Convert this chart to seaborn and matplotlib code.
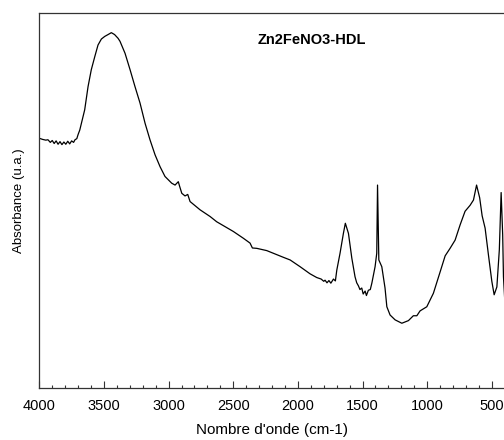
import matplotlib
matplotlib.use("Agg")
import matplotlib.pyplot as plt
from matplotlib.ticker import MultipleLocator
import seaborn as sns
import pandas as pd

wavenumber = [4000, 3975, 3950, 3933, 3915, 3900, 3885, 3870, 3855, 3840, 3825, 3810,
              3795, 3780, 3765, 3750, 3735, 3724, 3710, 3700, 3687, 3649, 3623, 3598,
              3571, 3546, 3520, 3494, 3468, 3443, 3418, 3391, 3376, 3337, 3298, 3260,
              3221, 3182, 3144, 3105, 3066, 3028, 2976, 2950, 2925, 2915, 2898, 2873,
              2852, 2834, 2757, 2679, 2628, 2499, 2422, 2370, 2352, 2318, 2241, 2112,
              2060, 1983, 1906, 1854, 1820, 1800, 1790, 1775, 1760, 1745, 1725, 1710,
              1699, 1674, 1648, 1633, 1609, 1583, 1558, 1545, 1532, 1520, 1506, 1495,
              1480, 1470, 1455, 1440, 1428, 1403, 1390, 1384, 1374, 1351, 1326, 1312,
              1287, 1248, 1196, 1145, 1107, 1080, 1055, 1003, 952, 900, 861, 823,
              784, 745, 707, 668, 642, 618, 594, 575, 552, 526, 500, 482,
              461, 442, 428, 416, 410, 400]
absorbance = [0.666, 0.663, 0.661, 0.662, 0.655, 0.660, 0.652, 0.659, 0.650, 0.657, 0.649, 0.656,
              0.650, 0.658, 0.651, 0.659, 0.655, 0.662, 0.665, 0.676, 0.688, 0.742, 0.804, 0.849,
              0.884, 0.915, 0.931, 0.938, 0.943, 0.948, 0.943, 0.933, 0.925, 0.893, 0.849, 0.804,
              0.760, 0.706, 0.662, 0.622, 0.590, 0.564, 0.546, 0.541, 0.550, 0.538, 0.519, 0.512,
              0.516, 0.497, 0.475, 0.457, 0.443, 0.417, 0.399, 0.386, 0.373, 0.372, 0.366, 0.348,
              0.341, 0.323, 0.304, 0.294, 0.290, 0.284, 0.287, 0.280, 0.286, 0.279, 0.290, 0.285,
              0.314, 0.359, 0.412, 0.439, 0.412, 0.346, 0.296, 0.280, 0.272, 0.262, 0.266, 0.250,
              0.258, 0.246, 0.260, 0.262, 0.279, 0.323, 0.359, 0.541, 0.341, 0.323, 0.266, 0.216,
              0.194, 0.181, 0.172, 0.179, 0.192, 0.192, 0.205, 0.216, 0.252, 0.309, 0.352, 0.372,
              0.394, 0.435, 0.471, 0.487, 0.501, 0.541, 0.507, 0.459, 0.426, 0.354, 0.284, 0.248,
              0.269, 0.368, 0.521, 0.408, 0.296, 0.234]

title = "Zn2FeNO3-HDL"
xlabel = "Nombre d'onde (cm-1)"
ylabel = "Absorbance (u.a.)"
xticks = [4000, 3500, 3000, 2500, 2000, 1500, 1000, 500]

sns.set_style("ticks")
plt.rcParams['font.family'] = ['Liberation Sans', 'DejaVu Sans']
plt.rcParams['text.color'] = 'black'
plt.rcParams['axes.labelcolor'] = 'black'
plt.rcParams['xtick.color'] = 'black'

df = pd.DataFrame({"wn": wavenumber, "abs": absorbance})

fig = plt.figure(figsize=(5.04, 4.40), dpi=100)
ax = fig.add_axes([0.078, 0.119, 0.9235, 0.851])
sns.lineplot(data=df, x="wn", y="abs", sort=False, estimator=None,
             color="black", linewidth=0.9, ax=ax)

ax.set_xlim(4000, 400)
ax.set_ylim(0, 1)
ax.set_xticks(xticks)
ax.set_xticklabels([str(t) for t in xticks])
ax.xaxis.set_minor_locator(MultipleLocator(100))
ax.tick_params(axis='x', which='major', direction='in', length=4.8, width=0.8,
               labelsize=10.5, pad=8.5, color='#333333', labelcolor='black')
ax.tick_params(axis='x', which='minor', direction='in', length=2.4, width=0.8,
               color='#333333')
ax.set_yticks([])
for s in ax.spines.values():
    s.set_visible(True)
    s.set_linewidth(0.9)
    s.set_color('#333333')

ax.set_xlabel(xlabel, fontsize=11, labelpad=7, color='black')
ax.set_ylabel(ylabel, fontsize=9.5, labelpad=10, color='black')
ax.text(0.585, 0.929, title, transform=ax.transAxes, ha='center', va='center',
        fontsize=10.5, fontweight='bold', color='black')

fig.savefig("out.png", dpi=100)
